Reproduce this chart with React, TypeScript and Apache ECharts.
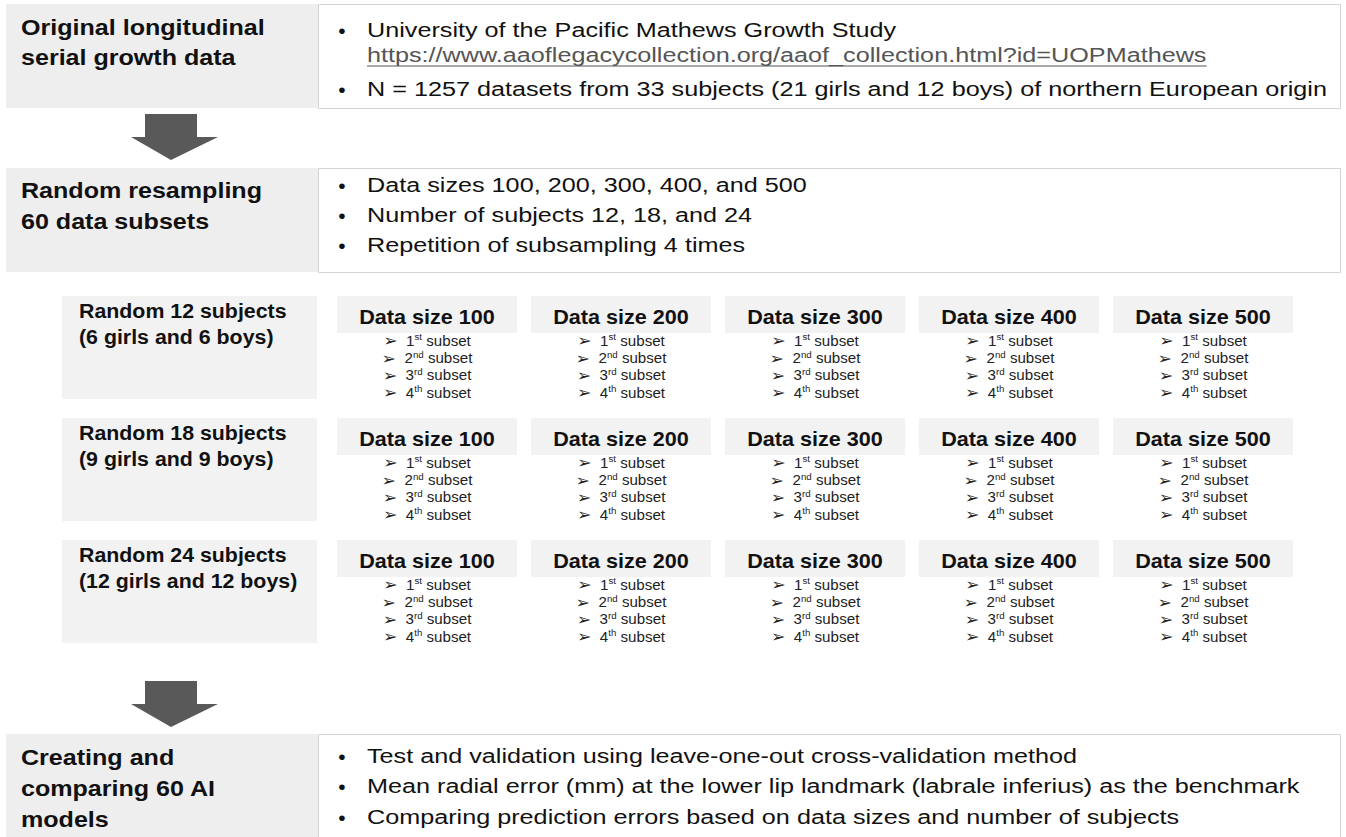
import React, { useEffect, useRef } from "react";
import * as echarts from "echarts";

// ---- content ----
const sectionTitles: string[][] = [
  ["Original longitudinal", "serial growth data"],
  ["Random resampling", "60 data subsets"],
  ["Creating and", "comparing 60 AI", "models"],
];
const section1Lines = [
  { kind: "bullet", text: "University of the Pacific Mathews Growth Study" },
  { kind: "link", text: "https://www.aaoflegacycollection.org/aaof_collection.html?id=UOPMathews" },
  { kind: "bullet", text: "N = 1257 datasets from 33 subjects (21 girls and 12 boys) of northern European origin" },
];
const section2Lines = [
  "Data sizes 100, 200, 300, 400, and 500",
  "Number of subjects 12, 18, and 24",
  "Repetition of subsampling 4 times",
];
const section4Lines = [
  "Test and validation using leave-one-out cross-validation method",
  "Mean radial error (mm) at the lower lip landmark (labrale inferius) as the benchmark",
  "Comparing prediction errors based on data sizes and number of subjects",
];
const subjectGroups: string[][] = [
  ["Random 12 subjects", "(6 girls and 6 boys)"],
  ["Random 18 subjects", "(9 girls and 9 boys)"],
  ["Random 24 subjects", "(12 girls and 12 boys)"],
];
const dataSizes = [100, 200, 300, 400, 500];
const subsetOrdinals: string[][] = [
  ["1", "st"],
  ["2", "nd"],
  ["3", "rd"],
  ["4", "th"],
];

// ---- layout ----
const FF = "'Liberation Sans', Arial, Helvetica, sans-serif";
const LEFT_X = 6;
const LEFT_W = 312;
const RIGHT_X = 318;
const RIGHT_W = 1022;
const sectionBoxes = [
  { y: 4, h: 104, titleY: [28, 58], lineY: [30, 55, 89] },
  { y: 168, h: 104, titleY: [191, 222], lineY: [185, 215, 245] },
  { y: 734, h: 110, titleY: [758, 789, 820], lineY: [756, 786, 817] },
];
const arrows = [114, 681];
const rowTops = [296, 418, 540];

const TITLE_SIZE = 22, TITLE_SX = 1.14;
const BODY_SIZE = 21, BODY_SX = 1.2, LINK_SX = 1.2;
const LABEL_SIZE = 19.5, LABEL_SX = 1.095;
const HEAD_SIZE = 20, HEAD_SX = 1.08;
const SUB_SIZE = 14, SUB_SX = 1.08;

function measure(text: string, font: string) {
  const c = document.createElement("canvas").getContext("2d");
  if (!c) return text.length * 10;
  c.font = font;
  return c.measureText(text).width;
}

function buildGraphic() {
  const g: any[] = [];
  const titleFont = { fontSize: TITLE_SIZE, fontWeight: "bold", fontFamily: FF, fill: "#111" };
  const bodyFont = { fontSize: BODY_SIZE, fontFamily: FF, fill: "#111" };

  sectionBoxes.forEach((b, si) => {
    g.push({ type: "rect", shape: { x: LEFT_X, y: b.y, width: LEFT_W, height: b.h }, style: { fill: "#eeeeee" } });
    g.push({
      type: "rect",
      shape: { x: RIGHT_X + 0.5, y: b.y + 0.5, width: RIGHT_W, height: b.h },
      style: { fill: "#ffffff", stroke: "#d4d4d4", lineWidth: 1 },
    });
    sectionTitles[si].forEach((t, li) => {
      g.push({
        type: "text", x: 21, y: b.titleY[li], scaleX: TITLE_SX,
        style: { text: t, ...titleFont, align: "left", verticalAlign: "middle" },
      });
    });
  });

  const bullet = (y: number, text: string) => {
    g.push({ type: "text", x: 342, y, style: { text: "•", ...bodyFont, align: "center", verticalAlign: "middle" } });
    g.push({ type: "text", x: 367, y, scaleX: BODY_SX, style: { text, ...bodyFont, align: "left", verticalAlign: "middle" } });
  };
  section1Lines.forEach((l, i) => {
    const y = sectionBoxes[0].lineY[i];
    if (l.kind === "bullet") bullet(y, l.text);
    else {
      g.push({ type: "text", x: 367, y, scaleX: LINK_SX, style: { text: l.text, ...bodyFont, fill: "#555", align: "left", verticalAlign: "middle" } });
      const w = measure(l.text, `${BODY_SIZE}px ${FF}`) * LINK_SX;
      g.push({ type: "line", shape: { x1: 367, y1: y + 11, x2: 367 + w, y2: y + 11 }, style: { stroke: "#555", lineWidth: 1.2 } });
    }
  });
  section2Lines.forEach((t, i) => bullet(sectionBoxes[1].lineY[i], t));
  section4Lines.forEach((t, i) => bullet(sectionBoxes[2].lineY[i], t));

  arrows.forEach((top) => {
    g.push({
      type: "polygon",
      shape: { points: [[145, top], [197, top], [197, top + 23], [218, top + 23], [171, top + 46], [131, top + 23], [145, top + 23]] },
      style: { fill: "#595959" },
    });
  });

  rowTops.forEach((ry, ri) => {
    g.push({ type: "rect", shape: { x: 62, y: ry, width: 255, height: 103 }, style: { fill: "#f2f2f2" } });
    subjectGroups[ri].forEach((t, li) => {
      g.push({
        type: "text", x: 79, y: ry + 15 + li * 26, scaleX: LABEL_SX,
        style: { text: t, fontSize: LABEL_SIZE, fontWeight: "bold", fontFamily: FF, fill: "#111", align: "left", verticalAlign: "middle" },
      });
    });
    dataSizes.forEach((ds, ci) => {
      const bx = 337 + ci * 194;
      const cx = bx + 90;
      g.push({ type: "rect", shape: { x: bx, y: ry, width: 180, height: 37 }, style: { fill: "#f2f2f2" } });
      g.push({
        type: "text", x: cx, y: ry + 21, scaleX: HEAD_SX,
        style: { text: `Data size ${ds}`, fontSize: HEAD_SIZE, fontWeight: "bold", fontFamily: FF, fill: "#111", align: "center", verticalAlign: "middle" },
      });
      subsetOrdinals.forEach((o, oi) => {
        g.push({
          type: "text", x: cx, y: ry + 45 + oi * 17.3, scaleX: SUB_SX,
          style: {
            text: `{ar|➢}  {n|${o[0]}}{s|${o[1]}}{n| subset}`,
            align: "center",
            verticalAlign: "middle",
            fontFamily: FF,
            fontSize: SUB_SIZE,
            fill: "#222",
            rich: {
              ar: { fontFamily: "'DejaVu Sans', sans-serif", fontSize: 16, fill: "#222", lineHeight: 16 },
              n: { fontFamily: FF, fontSize: SUB_SIZE, fill: "#222", lineHeight: 16 },
              s: { fontFamily: FF, fontSize: 9, fill: "#222", lineHeight: 10, verticalAlign: "top" },
            },
          },
        });
      });
    });
  });
  return g;
}

export default function App() {
  const ref = useRef<HTMLDivElement>(null);
  useEffect(() => {
    document.body.style.margin = "0";
    if (!ref.current) return;
    const chart = echarts.init(ref.current, undefined, { renderer: "svg" });
    chart.setOption({ animation: false, backgroundColor: "#ffffff", graphic: { elements: buildGraphic() } });
    return () => chart.dispose();
  }, []);
  return <div ref={ref} style={{ width: 1346, height: 837 }} />;
}
